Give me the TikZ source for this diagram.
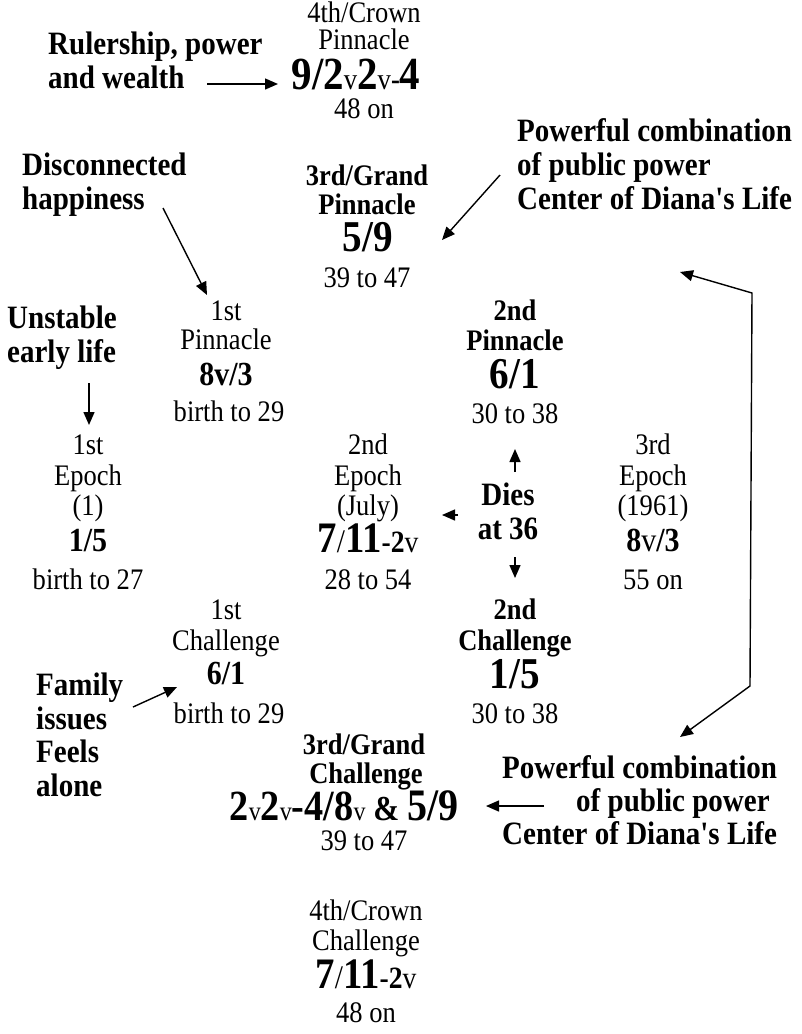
\documentclass[tikz,border=0pt]{standalone}
\usepackage{fontspec}
\setmainfont{Liberation Serif}[FakeStretch=0.89,Ligatures=TeXOff]
\usetikzlibrary{arrows.meta}
\newcommand{\myrg}{\mdseries\fontsize{29.8}{34}\selectfont}
\newcommand{\mybig}{\bfseries\fontsize{44}{50}\selectfont}
\newcommand{\mytop}{\bfseries\fontsize{46}{52}\selectfont}
\newcommand{\mymed}{\bfseries\fontsize{33.7}{38}\selectfont}
\newcommand{\myv}{\mdseries\fontsize{27}{31}\selectfont}
\newcommand{\myvt}{\mdseries\fontsize{30}{34}\selectfont}
\newcommand{\mybvt}{\bfseries\fontsize{30}{34}\selectfont}
\newcommand{\mysev}{{\bfseries\fontsize{43.5}{50}\selectfont 7}{\mdseries\fontsize{33}{38}\selectfont/}{\bfseries\fontsize{43.5}{50}\selectfont 11}{\bfseries\fontsize{31}{36}\selectfont -2}{\mdseries\fontsize{31}{36}\selectfont v}}
\begin{document}
\begin{tikzpicture}[x=1pt,y=-1pt,
  ln/.style={inner sep=0pt, text height=0.7em, text depth=0.2em, anchor=center, font=\myrg},
  lnb/.style={ln, font=\bfseries\fontsize{29.8}{34}\selectfont},
  big/.style={ln, font=\mybig},
  med/.style={ln, font=\mymed},
  note/.style={inner sep=0pt, text height=0.7em, text depth=0.2em, anchor=west, font=\bfseries\fontsize{32.6}{37}\selectfont},
  arr/.style={line width=1.4pt, -{Triangle[length=13pt,width=11pt]}},
  arrb/.style={line width=1.4pt, {Triangle[length=13pt,width=11pt]}-{Triangle[length=13pt,width=11pt]}}]
\useasboundingbox (0,0) rectangle (802,1034);
\fill[white] (0,0) rectangle (802,1034);

% 4th/Crown Pinnacle
\node[ln] (cp1) at (364,20) {4th/Crown};
\node[ln] (cp2) at (364,47) {Pinnacle};
\node[ln] (cp3) at (356,87) {{\mytop 9/2}{\myvt v}{\mytop 2}{\myvt v}{\mybvt -}{\mytop 4}};
\node[ln] (cp4) at (364,116) {48 on};
% Rulership note
\node[note] (rul1) at (48,52) {Rulership, power};
\node[note] (rul2) at (48,86) {and wealth};
\coordinate (rulA) at (207,84);
\coordinate (rulB) at (278,84);
\draw[arr] (rulA) -- (rulB);

% 3rd/Grand Pinnacle
\node[lnb] (gp1) at (367,183) {3rd/Grand};
\node[lnb] (gp2) at (367,212) {Pinnacle};
\node[big] (gp3) at (368,249) {5/9};
\node[ln] (gp4) at (367,285) {39 to 47};

% Disconnected note
\node[note] (dis1) at (22,173) {Disconnected};
\node[note] (dis2) at (22,207) {happiness};
\coordinate (disA) at (163,208);
\coordinate (disB) at (207,295);
\draw[arr] (disA) -- (disB);

% Powerful top
\node[note] (pt1) at (517,139) {Powerful combination};
\node[note] (pt2) at (517,173) {of public power};
\node[note] (pt3) at (517,207) {Center of Diana's Life};
\coordinate (ptA) at (500,175);
\coordinate (ptB) at (442,240);
\draw[arr] (ptA) -- (ptB);

% 1st Pinnacle
\node[ln] (p1a) at (226,318) {1st};
\node[ln] (p1b) at (226,347) {Pinnacle};
\node[med] (p1c) at (226,383) {8v/3};
\node[ln] (p1d) at (229,419) {birth to 29};

% Unstable note
\node[note] (uns1) at (7,326) {Unstable};
\node[note] (uns2) at (7,360) {early life};
\coordinate (unsA) at (89,383);
\coordinate (unsB) at (89,425);
\draw[arr] (unsA) -- (unsB);

% 2nd Pinnacle
\node[lnb] (p2a) at (515,318) {2nd};
\node[lnb] (p2b) at (515,348) {Pinnacle};
\node[big] (p2c) at (515,386) {6/1};
\node[ln] (p2d) at (515,421) {30 to 38};

% 1st Epoch
\node[ln] (e1a) at (88,452) {1st};
\node[ln] (e1b) at (88,483) {Epoch};
\node[ln] (e1c) at (88,513) {(1)};
\node[med] (e1d) at (88,549) {1/5};
\node[ln] (e1e) at (88,587) {birth to 27};

% 2nd Epoch
\node[ln] (e2a) at (368,452) {2nd};
\node[ln] (e2b) at (368,483) {Epoch};
\node[ln] (e2c) at (368,513) {(July)};
\node[ln] (e2d) at (368,550) {\mysev};
\node[ln] (e2e) at (368,587) {28 to 54};

% Dies at 36
\node[note, anchor=center] (dies1) at (508,503) {Dies};
\node[note, anchor=center] (dies2) at (508,537) {at 36};
\coordinate (upA) at (515,472);
\coordinate (upB) at (515,449);
\draw[arr] (upA) -- (upB);
\coordinate (lfA) at (458,515);
\coordinate (lfB) at (442,515);
\draw[arr] (lfA) -- (lfB);
\coordinate (dnA) at (515,557);
\coordinate (dnB) at (515,578);
\draw[arr] (dnA) -- (dnB);

% 3rd Epoch
\node[ln] (e3a) at (653,452) {3rd};
\node[ln] (e3b) at (653,483) {Epoch};
\node[ln] (e3c) at (653,513) {(1961)};
\node[ln] (e3d) at (653,549) {{\mymed 8}{\mdseries\fontsize{33.7}{38}\selectfont v}{\mymed /3}};
\node[ln] (e3e) at (653,587) {55 on};

% bent double arrow
\coordinate (bnA) at (680,272);
\coordinate (bnB) at (752,293);
\coordinate (bnC) at (750,686);
\coordinate (bnD) at (680,737);
\draw[arrb] (bnA) -- (bnB) -- (bnC) -- (bnD);

% 1st Challenge
\node[ln] (c1a) at (226,617) {1st};
\node[ln] (c1b) at (226,648) {Challenge};
\node[med] (c1c) at (226,682) {6/1};
\node[ln] (c1d) at (229,721) {birth to 29};

% Family note
\node[note] (fam1) at (36,693) {Family};
\node[note] (fam2) at (36,727) {issues};
\node[note] (fam3) at (36,760) {Feels};
\node[note] (fam4) at (36,794) {alone};
\coordinate (famA) at (133,707);
\coordinate (famB) at (177,687);
\draw[arr] (famA) -- (famB);

% 2nd Challenge
\node[lnb] (c2a) at (515,617) {2nd};
\node[lnb] (c2b) at (515,648) {Challenge};
\node[big] (c2c) at (515,686) {1/5};
\node[ln] (c2d) at (515,721) {30 to 38};

% 3rd/Grand Challenge
\node[lnb] (gc1) at (364,752) {3rd/Grand};
\node[lnb] (gc2) at (366,781) {Challenge};
\node[ln] (gc3) at (344,818) {{\bfseries\fontsize{43}{50}\selectfont 2}{\myv v}{\bfseries\fontsize{43}{50}\selectfont 2}{\myv v}{\bfseries\fontsize{43}{50}\selectfont -4/8}{\myv v}{\bfseries\fontsize{35}{40}\selectfont\ \&\ }{\bfseries\fontsize{45}{52}\selectfont 5/9}};
\node[ln] (gc4) at (364,848) {39 to 47};

% Powerful bottom
\node[note] (pb1) at (502,776) {Powerful combination};
\node[note] (pb2) at (576,809) {of public power};
\node[note] (pb3) at (502,842) {Center of Diana's Life};
\coordinate (pbA) at (544,806);
\coordinate (pbB) at (486,806);
\draw[arr] (pbA) -- (pbB);

% 4th/Crown Challenge
\node[ln] (cc1) at (366,918) {4th/Crown};
\node[ln] (cc2) at (366,948) {Challenge};
\node[ln] (cc3) at (366,986) {\mysev};
\node[ln] (cc4) at (366,1020) {48 on};
\end{tikzpicture}
\end{document}
